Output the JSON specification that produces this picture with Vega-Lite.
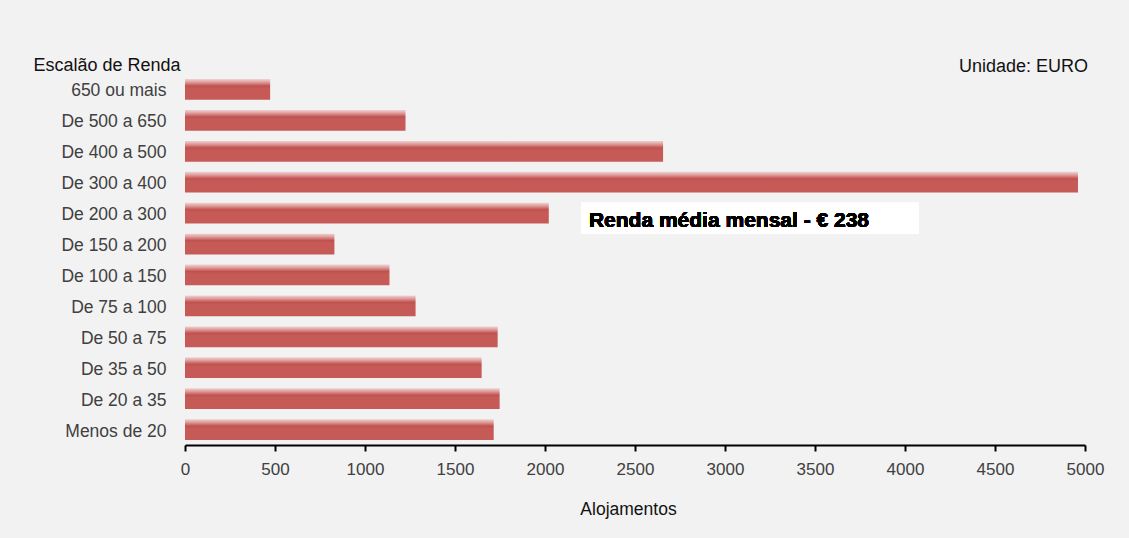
{
  "$schema": "https://vega.github.io/schema/vega-lite/v6.json",
  "autosize": "none",
  "width": 900,
  "height": 371,
  "padding": {"left": 185, "top": 74, "right": 44, "bottom": 93},
  "background": "#f2f2f2",
  "config": {
    "font": "Liberation Sans",
    "view": {"stroke": null},
    "axis": {"grid": false, "labelFont": "Liberation Sans", "titleFont": "Liberation Sans"}
  },
  "title": {
    "text": "Unidade: EURO",
    "anchor": "end",
    "frame": "group",
    "fontSize": 18,
    "fontWeight": "normal",
    "color": "#111111",
    "baseline": "alphabetic",
    "offset": 1,
    "dy": 35,
    "dx": 3
  },
  "data": {
    "values": [
      {"escalao": "650 ou mais", "alojamentos": 473},
      {"escalao": "De 500 a 650", "alojamentos": 1225},
      {"escalao": "De 400 a 500", "alojamentos": 2656},
      {"escalao": "De 300 a 400", "alojamentos": 4961},
      {"escalao": "De 200 a 300", "alojamentos": 2021},
      {"escalao": "De 150 a 200", "alojamentos": 830},
      {"escalao": "De 100 a 150", "alojamentos": 1136},
      {"escalao": "De 75 a 100", "alojamentos": 1281},
      {"escalao": "De 50 a 75", "alojamentos": 1737},
      {"escalao": "De 35 a  50", "alojamentos": 1648},
      {"escalao": "De 20 a 35", "alojamentos": 1748},
      {"escalao": "Menos de 20", "alojamentos": 1715}
    ]
  },
  "encoding": {
    "y": {
      "field": "escalao",
      "type": "nominal",
      "sort": null,
      "scale": {"paddingInner": 0.33, "paddingOuter": 0.165},
      "axis": {
        "title": "Escalão de Renda",
        "titleAngle": 0,
        "titleAlign": "left",
        "titleBaseline": "alphabetic",
        "titleX": -152,
        "titleY": -4,
        "titleFontSize": 18,
        "titleFontWeight": "normal",
        "titleColor": "#111111",
        "domain": false,
        "ticks": false,
        "labelPadding": 19,
        "labelOffset": 2,
        "labelFontSize": 17.5,
        "labelColor": "#404040"
      }
    }
  },
  "layer": [
    {
      "mark": {
        "type": "bar",
        "fill": {
          "gradient": "linear",
          "x1": 0, "y1": 0, "x2": 0, "y2": 1,
          "stops": [
            {"offset": 0, "color": "#f0d2d2"},
            {"offset": 0.15, "color": "#de9d9b"},
            {"offset": 0.33, "color": "#c1514e"},
            {"offset": 0.45, "color": "#c55a57"},
            {"offset": 1, "color": "#c55a57"}
          ]
        }
      },
      "encoding": {
        "x": {
          "field": "alojamentos",
          "type": "quantitative",
          "scale": {"domain": [0, 5000], "nice": false},
          "axis": {
            "title": "Alojamentos",
            "titleFontSize": 17.5,
            "titleFontWeight": "normal",
            "titleColor": "#111111",
            "titlePadding": 23,
            "titleX": 443,
            "values": [0, 500, 1000, 1500, 2000, 2500, 3000, 3500, 4000, 4500, 5000],
            "format": "d",
            "domainColor": "#000000",
            "domainWidth": 2,
            "tickColor": "#000000",
            "tickWidth": 2,
            "tickSize": 6,
            "labelPadding": 10,
            "labelFontSize": 17,
            "labelColor": "#404040",
            "labelFlush": false
          }
        }
      }
    },
    {
      "mark": {"type": "rect", "fill": "#ffffff", "height": 31, "yOffset": 5},
      "encoding": {
        "x": {"datum": 2200, "type": "quantitative"},
        "x2": {"datum": 4078},
        "y": {"datum": "De 200 a 300", "type": "nominal"}
      }
    },
    {
      "mark": {
        "type": "text",
        "align": "left",
        "baseline": "middle",
        "dy": 8,
        "fontSize": 21,
        "fontWeight": "bold",
        "color": "#000000",
        "font": "Liberation Sans"
      },
      "encoding": {
        "x": {"datum": 2244, "type": "quantitative"},
        "y": {"datum": "De 200 a 300", "type": "nominal"},
        "text": {"value": "Renda média mensal - € 238"}
      }
    }
  ]
}
